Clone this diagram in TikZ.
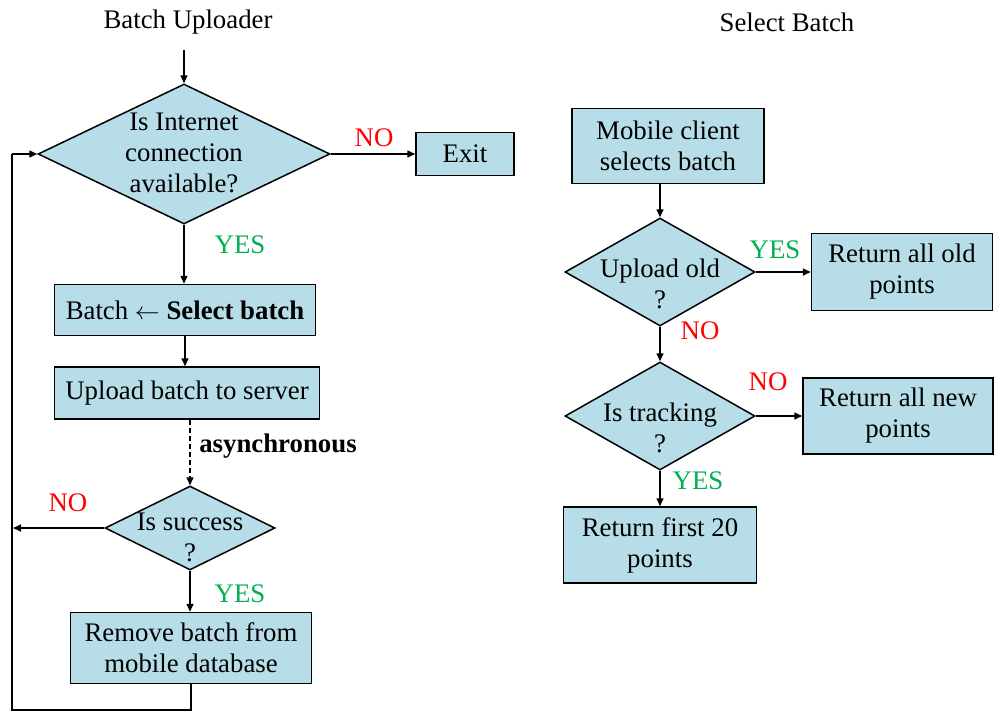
\documentclass[tikz,border=0pt]{standalone}
\usepackage{fontspec}
\setmainfont{Liberation Serif}
\usetikzlibrary{arrows.meta,shapes.geometric}
\definecolor{boxfill}{RGB}{183,221,232}
\definecolor{nored}{RGB}{255,0,0}
\definecolor{yesgreen}{RGB}{0,176,80}

\begin{document}
\begin{tikzpicture}[x=1pt,y=-1pt,
  every node/.style={font=\fontsize{26.8}{31}\selectfont},
  procbox/.style={draw, line width=1.5pt, fill=boxfill, align=center, inner sep=0pt},
  decision/.style={diamond, draw, line width=1.5pt, fill=boxfill, inner sep=0pt},
  txt/.style={align=center, inner sep=0pt},
  flow/.style={line width=1.5pt, -{Triangle[length=8pt,width=7pt]}},
  plain/.style={line width=1.5pt},
  nolab/.style={text=nored, inner sep=0pt},
  yeslab/.style={text=yesgreen, inner sep=0pt}]
\useasboundingbox (0,0) rectangle (995,713);

% ---------- Batch Uploader ----------
\node[txt] (title1) at (188,22) {Batch Uploader};
\coordinate (start) at (184,50);

\node[decision, minimum width=292pt, minimum height=140pt] (d1) at (184,154) {};
\node[txt] (d1t) at (184,153) {Is Internet\\connection\\available?};
\node[procbox, minimum width=98pt, minimum height=43pt] (exit) at (465,154) {Exit};
\node[procbox, minimum width=261pt, minimum height=51pt] (sel) at (185,310)
  {Batch $\leftarrow$ \textbf{Select batch}};
\node[procbox, minimum width=265pt, minimum height=52pt] (upl) at (187,393)
  {Upload batch to server};
\node[decision, minimum width=170pt, minimum height=84pt] (d2) at (190,528) {};
\node[txt] (d2t) at (190,537) {Is success\\?};
\node[procbox, minimum width=241pt, minimum height=71pt] (rem) at (191,648)
  {Remove batch from\\mobile database};

\node[nolab] (no1) at (374,138) {NO};
\node[yeslab] (yes1) at (240,245) {YES};
\node[txt, font=\fontsize{26.8}{31}\selectfont\bfseries] (async) at (278,446) {asynchronous};
\node[nolab] (no2) at (68,503) {NO};
\node[yeslab] (yes2) at (240,594) {YES};

\coordinate (loopB) at (191,710);
\coordinate (loopBL) at (12,710);
\coordinate (loopTL) at (12,154);
\coordinate (noEnd) at (13,528);

\draw[flow] (start) -- (d1.north);
\draw[flow] (d1.east) -- (exit.west);
\draw[flow] (d1.south) -- (d1.south |- sel.north);
\draw[flow] (sel.south) -- (sel.south |- upl.north);
\draw[flow, dashed, dash pattern=on 5pt off 3pt] (upl.south -| d2.north) -- (d2.north);
\draw[flow] (d2.west) -- (noEnd);
\draw[flow] (d2.south) -- (d2.south |- rem.north);
\draw[plain] (rem.south) -- (loopB) -- (loopBL) -- (loopTL);
\draw[flow] (loopTL) -- (d1.west);

% ---------- Select Batch ----------
\node[txt] (title2) at (787,22) {Select Batch};
\node[procbox, minimum width=192pt, minimum height=75pt] (mob) at (668,146)
  {Mobile client\\selects batch};
\node[decision, minimum width=190pt, minimum height=108pt] (d3) at (660,272) {};
\node[txt] (d3t) at (660,284) {Upload old\\?};
\node[procbox, minimum width=181pt, minimum height=77pt] (rold) at (902,272)
  {Return all old\\points};
\node[decision, minimum width=190pt, minimum height=108pt] (d4) at (660,416) {};
\node[txt] (d4t) at (660,428) {Is tracking\\?};
\node[procbox, minimum width=190pt, minimum height=76pt] (rnew) at (898,416)
  {Return all new\\points};
\node[procbox, minimum width=193pt, minimum height=76pt] (rfirst) at (660,545)
  {Return first 20\\points};

\node[yeslab] (yes3) at (775,250) {YES};
\node[nolab] (no3) at (700,331) {NO};
\node[nolab] (no4) at (768,382) {NO};
\node[yeslab] (yes4) at (698,481) {YES};

\draw[flow] (d3.north |- mob.south) -- (d3.north);
\draw[flow] (d3.east) -- (rold.west);
\draw[flow] (d3.south) -- (d4.north);
\draw[flow] (d4.east) -- (rnew.west);
\draw[flow] (d4.south) -- (rfirst.north);
\end{tikzpicture}
\end{document}
